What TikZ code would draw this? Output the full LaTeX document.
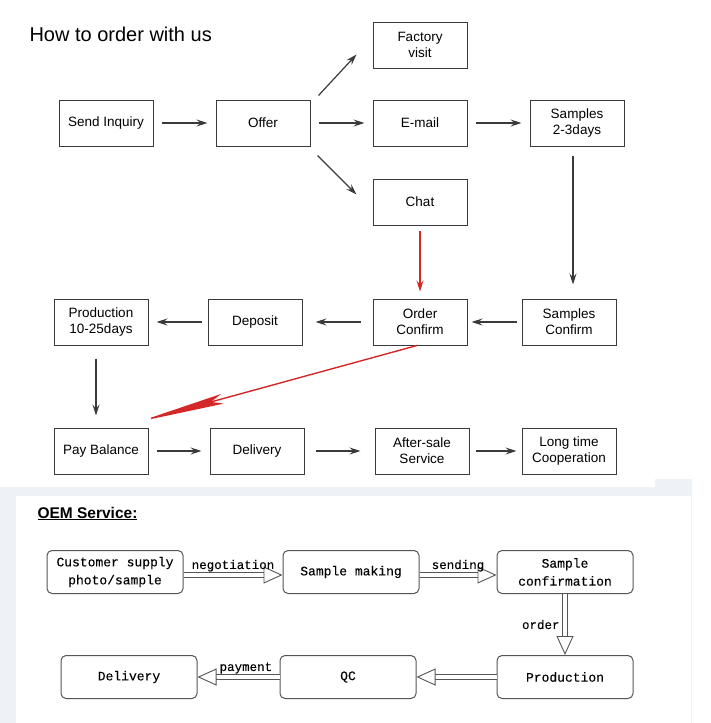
\documentclass[tikz,border=0pt]{standalone}
\usepackage{fontspec}
\setmainfont{Liberation Sans}
\newfontfamily\oemfont[RawFeature={embolden=0.1}]{Liberation Mono}
\usetikzlibrary{arrows.meta,positioning}
\definecolor{linegray}{HTML}{3A3A3A}
\definecolor{boxgray}{HTML}{555555}
\definecolor{orderred}{HTML}{D42828}
\definecolor{bandblue}{HTML}{EEF1F6}
\tikzset{
    %Define standard arrow tip
    >={Stealth[length=11pt,width=7pt,inset=4pt]},
    punkt/.style={
      rectangle,
      draw=linegray, line width=1pt,
      minimum width=94pt,
      minimum height=46pt,
      align=center,
      font=\fontsize{13.5}{16}\selectfont},
    go/.style={
      draw=linegray, line width=1.2pt,
      shorten >=8pt, shorten <=8pt},
    redgo/.style={
      draw=orderred, line width=1.4pt},
    oem/.style={
      rectangle,
      rounded corners=5pt,
      draw=boxgray, line width=1pt,
      minimum width=136pt,
      minimum height=43pt,
      align=center,
      font=\oemfont\fontsize{13}{18}\selectfont},
    hollow/.style={
      draw=boxgray, line width=0.9pt,
      double, double distance=4pt,
      -{Triangle[open,length=19pt,width=17pt]}},
    tag/.style={
      font=\oemfont\fontsize{12.5}{14}\selectfont,
      inner sep=1pt},
}

\begin{document}
\begin{tikzpicture}[x=1pt,y=1pt]
    \useasboundingbox (0,0) rectangle (710,-723);
    % panel behind the OEM part
    \fill[bandblue] (0,-487) -- (655,-487) -- (655,-479) -- (692,-479)
          -- (692,-723) -- (0,-723) -- cycle;
    \fill[white] (16,-496) rectangle (691,-723);

    \node (title) [anchor=base west,font=\fontsize{20}{24}\selectfont]
          at (26,-41) {How to order with us};

    % first row
    \node (inquiry) [punkt] at (106,-123)
          {Send Inquiry};
    \node (offer) [punkt] [right=62pt of inquiry]
          {Offer}
          edge [<-,go] (inquiry);
    \node (email) [punkt] [right=62pt of offer]
          {E-mail}
          edge [<-,go] (offer);
    \node (samples) [punkt] [right=62pt of email]
          {Samples\\2-3days}
          edge [<-,go] (email);
    \node (factory) [punkt] [above=31pt of email]
          {Factory\\visit};
    \node (chat) [punkt] [below=32pt of email]
          {Chat};
    \draw [->,go,shorten >=0pt,shorten <=0pt]
          ([shift={(8pt,4pt)}]offer.north east) -- ([shift={(-16pt,14pt)}]factory.south west);
    \draw [->,go,shorten >=0pt,shorten <=0pt]
          ([shift={(7pt,-9pt)}]offer.south east) -- ([shift={(-16pt,-16pt)}]chat.north west);

    % second row
    \node (ordconf) [punkt] [below=73pt of chat]
          {Order\\Confirm}
          edge [<-,redgo,shorten <=7pt,shorten >=5pt] (chat);
    \node (samconf) [punkt] [right=54pt of ordconf]
          {Samples\\Confirm}
          edge [->,go,shorten <=5pt,shorten >=4pt] (ordconf);
    \draw [->,go,shorten <=9pt,shorten >=14pt]
          ([xshift=-4pt]samples.south) -- ([xshift=4pt]samconf.north);
    \node (deposit) [punkt] [left=70pt of ordconf]
          {Deposit}
          edge [<-,go,shorten <=13pt,shorten >=12pt] (ordconf);
    \node (prod) [punkt] [left=59pt of deposit]
          {Production\\10-25days}
          edge [<-,go,shorten <=8pt,shorten >=6pt] (deposit);

    % third row
    \node (paybal) [punkt] [below=82pt of prod]
          {Pay Balance};
    \draw [->,go,shorten <=13pt,shorten >=12pt]
          ([xshift=-5pt]prod.south) -- ([xshift=-5pt]paybal.north);
    \draw [redgo,-{Stealth[length=86pt,width=10pt,inset=12pt]}]
          ([xshift=-3pt]ordconf.south) -- ([shift={(-9pt,6pt)}]paybal.north east);
    \node (delivery) [punkt] [right=61pt of paybal]
          {Delivery}
          edge [<-,go] (paybal);
    \node (aftersale) [punkt] [right=70pt of delivery]
          {After-sale\\Service}
          edge [<-,go,shorten <=14pt,shorten >=11pt] (delivery);
    \node (longtime) [punkt] [right=52pt of aftersale]
          {Long time\\Cooperation}
          edge [<-,go,shorten <=5pt,shorten >=6pt] (aftersale);

    % OEM part
    \node (oemtitle) [anchor=base west,font=\bfseries\fontsize{15.5}{18}\selectfont]
          at (34,-518) {\underline{OEM Service:}};
    \node (cust) [oem] at (115,-572)
          {Customer supply\\photo/sample};
    \node (making) [oem] [right=99pt of cust]
          {Sample making};
    \node (sconf) [oem] [right=77pt of making]
          {Sample\\confirmation};
    \node (prodn) [oem] [below=61pt of sconf]
          {Production};
    \node (qc) [oem] [left=80pt of prodn]
          {QC};
    \node (deliv) [oem] [left=82pt of qc]
          {Delivery};
    \draw [hollow] ([yshift=-3pt]cust.east) -- ([yshift=-3pt]making.west)
          node [tag,midway,above=2pt] {negotiation};
    \draw [hollow] ([yshift=-3pt]making.east) -- ([yshift=-3pt]sconf.west)
          node [tag,midway,above=2pt] {sending};
    \draw [hollow] (sconf.south) -- (prodn.north)
          node [tag,midway,left=4pt] {order};
    \draw [hollow] (prodn.west) -- (qc.east);
    \draw [hollow] (qc.west) -- (deliv.east)
          node [tag,pos=0.41,above=2pt] {payment};
\end{tikzpicture}
\end{document}
